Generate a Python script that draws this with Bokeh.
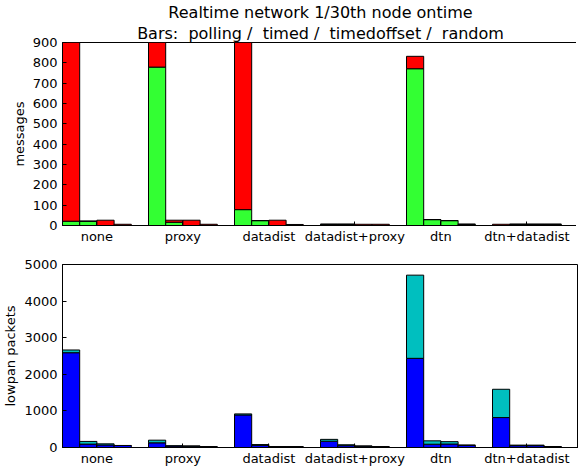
from bokeh.plotting import figure
from bokeh.models import ColumnDataSource, FixedTicker, Range1d, Title
from bokeh.layouts import column
from bokeh.embed import file_html
from bokeh.resources import INLINE

categories = ["none", "proxy", "datadist", "datadist+proxy", "dtn", "dtn+datadist"]
modes = ["polling", "timed", "timedoffset", "random"]

# top chart: messages, lower segment (green) and upper segment (red); rows = categories, cols = modes
msg_green = [[21, 21, 0, 0], [779, 16, 0, 0], [78, 24, 0, 0], [6, 6, 0, 0], [771, 29, 24, 6], [0, 6, 6, 6]]
msg_red = [[1500, 0, 26, 6], [400, 10, 26, 6], [1500, 0, 26, 5], [0, 0, 6, 6], [61, 0, 0, 0], [6, 0, 0, 0]]

# bottom chart: lowpan packets, lower segment (blue) and upper segment (cyan)
pkt_blue = [[2590, 93, 70, 55], [128, 40, 35, 20], [890, 60, 20, 20], [172, 50, 35, 20], [2436, 90, 95, 60], [818, 50, 50, 25]]
pkt_cyan = [[74, 73, 30, 0], [72, 5, 5, 0], [28, 20, 0, 0], [50, 25, 5, 0], [2273, 92, 65, 5], [773, 15, 15, 0]]

NB = "\u00a0"
title_lines = ["Realtime network 1/30th node ontime",
               "Bars:" + NB * 2 + "polling /" + NB * 2 + "timed /" + NB * 2 + "timedoffset /" + NB * 2 + "random"]

FONT = "DejaVu Sans"
BW = 0.2


def sources(lower, upper):
    xs, b0, t0, t1 = [], [], [], []
    for i, (lo_row, up_row) in enumerate(zip(lower, upper)):
        for j, (lo, up) in enumerate(zip(lo_row, up_row)):
            xs.append(i + BW / 2 + BW * j)
            b0.append(0)
            t0.append(lo)
            t1.append(lo + up)
    return (ColumnDataSource(dict(x=xs, bottom=b0, top=t0)),
            ColumnDataSource(dict(x=xs, bottom=t0, top=t1)))


def make_fig(lower, upper, c_lo, c_up, ymax, ystep, ylabel, frame_h, mb_top, mb_bottom):
    p = figure(frame_width=516, frame_height=frame_h, output_backend="svg", toolbar_location=None,
               x_range=Range1d(0, len(categories)), y_range=Range1d(0, ymax),
               min_border_left=60, min_border_right=0, min_border_top=mb_top,
               min_border_bottom=mb_bottom)
    s_lo, s_up = sources(lower, upper)
    p.vbar(x="x", width=BW, bottom="bottom", top="top", source=s_lo,
           fill_color=c_lo, line_color="black", line_width=1)
    p.vbar(x="x", width=BW, bottom="bottom", top="top", source=s_up,
           fill_color=c_up, line_color="black", line_width=1)
    p.xgrid.visible = False
    p.ygrid.visible = False
    p.outline_line_color = "black"
    p.outline_line_width = 1
    p.background_fill_color = "white"
    p.border_fill_color = "white"

    xt = [i + 2 * BW for i in range(len(categories))]
    yt = list(range(0, ymax + 1, ystep))
    p.xaxis.ticker = FixedTicker(ticks=xt)
    p.xaxis.major_label_overrides = {x: c for x, c in zip(xt, categories)}
    p.yaxis.ticker = FixedTicker(ticks=yt)
    for ax in p.xaxis + p.yaxis:
        ax.major_tick_in = 4
        ax.major_tick_out = 0
        ax.minor_tick_line_color = None
        ax.axis_line_color = "black"
        ax.major_tick_line_color = "black"
        ax.major_label_text_font = FONT
        ax.major_label_text_font_size = "13px"
        ax.major_label_text_color = "black"
    p.xaxis.major_label_standoff = 3
    p.yaxis.major_label_standoff = 5
    p.yaxis.axis_label = ylabel
    p.yaxis.axis_label_text_font = FONT
    p.yaxis.axis_label_text_font_size = "13px"
    p.yaxis.axis_label_text_font_style = "normal"
    p.yaxis.axis_label_text_color = "black"
    p.yaxis.axis_label_standoff = 3
    return p


p1 = make_fig(msg_green, msg_red, "#33ff33", "#ff0000", 900, 100, "messages", 183, 39, 19)
p1.add_layout(Title(text=title_lines[1], align="center", text_font=FONT, text_font_size="16px",
                    text_font_style="normal", text_color="black", standoff=0, offset=0), "above")
p1.add_layout(Title(text=title_lines[0], align="center", text_font=FONT, text_font_size="16px",
                    text_font_style="normal", text_color="black", standoff=0, offset=0), "above")
p1.title.visible = False

p2 = make_fig(pkt_blue, pkt_cyan, "#0000ff", "#00bfbf", 5000, 1000, "lowpan packets", 183, 18, 16)

layout = column(p1, p2, spacing=0)
open("out.html", "w").write(file_html(layout, INLINE))
